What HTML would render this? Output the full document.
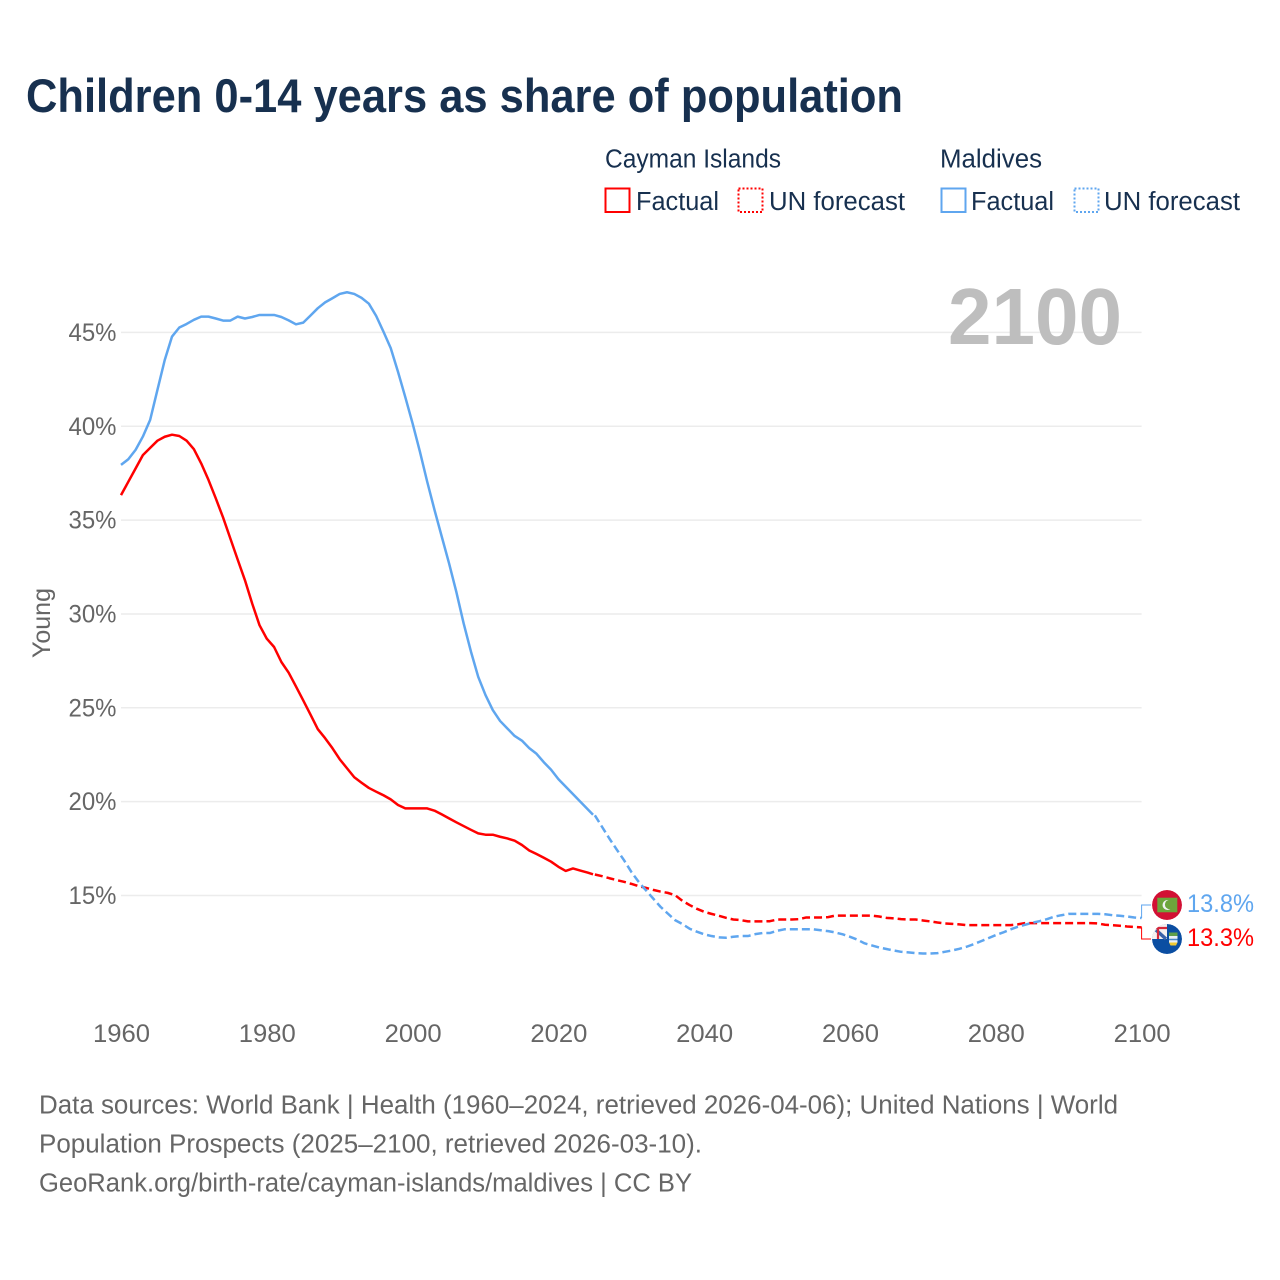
<!DOCTYPE html>
<html lang="en">
<head>
<meta charset="utf-8">
<title>Children 0-14 years as share of population</title>
<style>
html,body{margin:0;padding:0;background:#fff}
svg{display:block}
text{font-family:"Liberation Sans",sans-serif}
</style>
</head>
<body>
<svg id="chart" xmlns="http://www.w3.org/2000/svg" width="1280" height="1280" viewBox="0 0 1280 1280">
  <defs>
    <clipPath id="clip-mv"><circle cx="1167" cy="905" r="15"/></clipPath>
    <clipPath id="clip-ky"><circle cx="1167" cy="939" r="15"/></clipPath>
  </defs>
  <rect width="1280" height="1280" fill="#fff"/>
  <text x="26" y="112" font-size="47" font-weight="700" fill="#17304f" textLength="877" lengthAdjust="spacingAndGlyphs">Children 0-14 years as share of population</text>

  <g font-size="25.5" fill="#17304f">
    <text x="605" y="167.500" textLength="176" lengthAdjust="spacingAndGlyphs">Cayman Islands</text>
    <text x="940" y="167.500" textLength="102" lengthAdjust="spacingAndGlyphs">Maldives</text>
    <rect x="605.5" y="188.5" width="24" height="23.5" fill="none" stroke="#ff0000" stroke-width="2"/>
    <text x="636" y="210" textLength="83" lengthAdjust="spacingAndGlyphs">Factual</text>
    <rect x="738.5" y="188.5" width="24" height="23.5" fill="none" stroke="#ff0000" stroke-width="2" stroke-dasharray="2 2"/>
    <text x="769" y="210" textLength="136" lengthAdjust="spacingAndGlyphs">UN forecast</text>
    <rect x="941.5" y="188.5" width="24" height="23.5" fill="none" stroke="#5fa6ef" stroke-width="2"/>
    <text x="971" y="210" textLength="83" lengthAdjust="spacingAndGlyphs">Factual</text>
    <rect x="1074.5" y="188.5" width="24" height="23.5" fill="none" stroke="#5fa6ef" stroke-width="2" stroke-dasharray="2 2"/>
    <text x="1104" y="210" textLength="136" lengthAdjust="spacingAndGlyphs">UN forecast</text>
  </g>

  <g id="grid"></g>
  <text x="1035" y="344" text-anchor="middle" font-size="80" font-weight="700" fill="#bebebe" textLength="174" lengthAdjust="spacingAndGlyphs">2100</text>
  <g id="y-axis"></g>
  <g id="x-axis"></g>
  <text transform="translate(50,623) rotate(-90)" text-anchor="middle" font-size="25" fill="#666666" textLength="70" lengthAdjust="spacingAndGlyphs">Young</text>
  <g id="series"></g>

  <g clip-path="url(#clip-mv)">
    <circle cx="1167" cy="905" r="15" fill="#d21034"/>
    <rect x="1157.3" y="897.7" width="20" height="14.6" fill="#6da53c"/>
    <circle cx="1167.5" cy="905" r="5" fill="#f2f2f2"/>
    <circle cx="1169.5" cy="904.5" r="4.6" fill="#6da53c"/>
  </g>
  <g clip-path="url(#clip-ky)">
    <circle cx="1167" cy="939" r="15" fill="#0b4ea2"/>
    <rect x="1152" y="924" width="15" height="15" fill="#f6f0f0"/>
    <path d="M1156 930 L1166 939" stroke="#3b62a8" stroke-width="3.500" fill="none"/>
    <path d="M1153 928 H1167 M1158 928 V939" stroke="#d5283c" stroke-width="2.200" fill="none"/>
    <rect x="1169" y="932.500" width="8.500" height="3.500" fill="#5f9e4a"/>
    <rect x="1169" y="936" width="8.500" height="6.500" fill="#e8eef6"/>
    <path d="M1169 939.500 H1177.500" stroke="#4a86c5" stroke-width="1.500"/>
    <path d="M1169 942.500 H1177.500 L1176 945.500 H1170.500 Z" fill="#f0c933"/>
  </g>

  <g id="end-labels"></g>

  <g font-size="25.5" fill="#666666">
    <text x="39" y="1113.500" textLength="1079" lengthAdjust="spacingAndGlyphs">Data sources: World Bank | Health (1960–2024, retrieved 2026-04-06); United Nations | World</text>
    <text x="39" y="1152.500" textLength="663" lengthAdjust="spacingAndGlyphs">Population Prospects (2025–2100, retrieved 2026-03-10).</text>
    <text x="39" y="1191.500" textLength="653" lengthAdjust="spacingAndGlyphs">GeoRank.org/birth-rate/cayman-islands/maldives | CC BY</text>
  </g>
</svg>
<script>
const xTicks = [1960, 1980, 2000, 2020, 2040, 2060, 2080, 2100];
const yTicks = [15, 20, 25, 30, 35, 40, 45];
const factualYears = [1960,1961,1962,1963,1964,1965,1966,1967,1968,1969,1970,1971,1972,1973,1974,1975,1976,1977,1978,1979,1980,1981,1982,1983,1984,1985,1986,1987,1988,1989,1990,1991,1992,1993,1994,1995,1996,1997,1998,1999,2000,2001,2002,2003,2004,2005,2006,2007,2008,2009,2010,2011,2012,2013,2014,2015,2016,2017,2018,2019,2020,2021,2022,2023,2024,2024.75];
const forecastStartYear = 2025;
const caymanFactual = [36.33,37.04,37.75,38.46,38.85,39.23,39.44,39.55,39.48,39.23,38.78,38.02,37.14,36.16,35.14,34.02,32.9,31.8,30.55,29.4,28.68,28.24,27.44,26.87,26.14,25.39,24.63,23.86,23.38,22.85,22.26,21.78,21.3,21.01,20.73,20.53,20.34,20.12,19.82,19.64,19.64,19.64,19.64,19.52,19.32,19.11,18.9,18.7,18.5,18.31,18.24,18.24,18.13,18.04,17.92,17.69,17.4,17.21,17.01,16.8,16.53,16.31,16.44,16.33,16.22,16.13];
const maldivesFactual = [37.94,38.24,38.74,39.45,40.34,41.94,43.53,44.78,45.26,45.45,45.67,45.84,45.84,45.74,45.63,45.63,45.84,45.74,45.82,45.93,45.93,45.93,45.82,45.64,45.43,45.52,45.9,46.29,46.6,46.82,47.05,47.14,47.05,46.84,46.53,45.88,45.04,44.16,42.9,41.55,40.15,38.65,37.05,35.55,34.12,32.7,31.17,29.5,28.0,26.65,25.68,24.88,24.3,23.9,23.5,23.25,22.85,22.55,22.1,21.7,21.2,20.8,20.4,20.0,19.6,19.3];
const caymanForecast = [16.12,16.03,15.92,15.82,15.73,15.62,15.5,15.41,15.3,15.21,15.14,15.02,14.72,14.49,14.29,14.13,14.02,13.92,13.81,13.72,13.69,13.62,13.62,13.62,13.63,13.72,13.72,13.72,13.74,13.83,13.83,13.83,13.85,13.93,13.93,13.93,13.93,13.93,13.93,13.88,13.81,13.78,13.74,13.72,13.72,13.67,13.62,13.56,13.51,13.49,13.46,13.42,13.42,13.42,13.42,13.42,13.42,13.42,13.46,13.53,13.53,13.53,13.53,13.53,13.53,13.53,13.53,13.53,13.53,13.51,13.44,13.42,13.39,13.35,13.32,13.3];
const maldivesForecast = [19.27,18.65,18.03,17.45,16.88,16.26,15.73,15.28,14.84,14.4,14.04,13.69,13.48,13.23,13.07,12.93,12.84,12.77,12.75,12.8,12.84,12.84,12.94,13.0,13.0,13.12,13.2,13.2,13.2,13.2,13.2,13.15,13.1,13.03,12.93,12.8,12.65,12.45,12.34,12.23,12.15,12.07,12.0,11.97,11.93,11.91,11.91,11.93,12.0,12.07,12.16,12.27,12.41,12.57,12.73,12.89,13.03,13.19,13.33,13.44,13.55,13.63,13.74,13.87,13.95,14.02,14.02,14.02,14.02,14.02,14.0,13.95,13.92,13.88,13.83,13.8];

const NS = 'http://www.w3.org/2000/svg';
const RED = '#ff0000';
const BLUE = '#5fa6ef';
function xScale(year) { return 121 + (year - 1960) * (1141.6 - 121) / 140; }
function yScale(v) { return 895.5 - (v - 15) * 18.77; }
function pathFrom(years, values) {
  return values.map(function (v, i) {
    return (i ? 'L' : 'M') + xScale(years[i]).toFixed(2) + ' ' + yScale(v).toFixed(2);
  }).join(' ');
}
function make(tag, parent, attrs, txt) {
  const el = document.createElementNS(NS, tag);
  Object.keys(attrs).forEach(function (k) { el.setAttribute(k, attrs[k]); });
  if (txt !== undefined) el.textContent = txt;
  parent.appendChild(el);
  return el;
}
const gridG = document.getElementById('grid');
const yAxisG = document.getElementById('y-axis');
const xAxisG = document.getElementById('x-axis');
const seriesG = document.getElementById('series');
const endG = document.getElementById('end-labels');

yTicks.forEach(function (t) {
  const line = make('line', gridG, {x1: 121, x2: 1141.6, y1: yScale(t), y2: yScale(t), stroke: '#ececec', 'stroke-width': 1.5});
  
  
  const label = make('text', yAxisG, {x: 116.5, y: yScale(t) + 8.5, 'text-anchor': 'end', 'font-size': 25, fill: '#666666', textLength: 48, lengthAdjust: 'spacingAndGlyphs'}, t + '%');
  
  
});
xTicks.forEach(function (t) {
  const label = make('text', xAxisG, {x: xScale(t) + 0.5, y: 1042, 'text-anchor': 'middle', 'font-size': 25, fill: '#666666', textLength: 57, lengthAdjust: 'spacingAndGlyphs'}, String(t));
  
  
});

const forecastYears = caymanForecast.map(function (_, i) { return forecastStartYear + i; });
const lineStyle = {fill: 'none', 'stroke-width': 2.5, 'stroke-linejoin': 'round'};

const caymanFactualLine = make('path', seriesG, Object.assign({d: pathFrom(factualYears, caymanFactual), stroke: RED}, lineStyle));


const caymanForecastLine = make('path', seriesG, Object.assign({d: pathFrom(forecastYears, caymanForecast), stroke: RED, 'stroke-dasharray': '8 4'}, lineStyle));


const maldivesFactualLine = make('path', seriesG, Object.assign({d: pathFrom(factualYears, maldivesFactual), stroke: BLUE}, lineStyle));


const maldivesForecastLine = make('path', seriesG, Object.assign({d: pathFrom(forecastYears, maldivesForecast), stroke: BLUE, 'stroke-dasharray': '8 4'}, lineStyle));



const lastM = maldivesForecast[maldivesForecast.length - 1];
const lastC = caymanForecast[caymanForecast.length - 1];
const connM = make('polyline', endG, {points: '1141.6,' + yScale(lastM).toFixed(1) + ' 1141.6,905 1151,905', fill: 'none', stroke: BLUE, 'stroke-width': 1});


const connC = make('polyline', endG, {points: '1141.6,' + yScale(lastC).toFixed(1) + ' 1141.6,939 1151,939', fill: 'none', stroke: RED, 'stroke-width': 1});


const valM = make('text', endG, {x: 1187, y: 912, 'font-size': 25, fill: BLUE, textLength: 67, lengthAdjust: 'spacingAndGlyphs'}, lastM.toFixed(1) + '%');


const valC = make('text', endG, {x: 1187, y: 946, 'font-size': 25, fill: RED, textLength: 67, lengthAdjust: 'spacingAndGlyphs'}, lastC.toFixed(1) + '%');


</script>
</body>
</html>
